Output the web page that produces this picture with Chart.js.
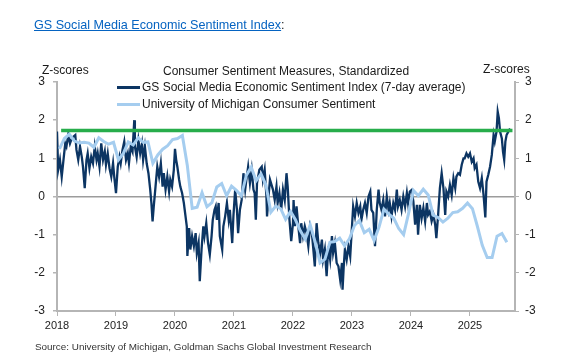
<!DOCTYPE html>
<html>
<head>
<meta charset="utf-8">
<script src="https://cdn.jsdelivr.net/npm/chart.js@4"></script>
<style>
  body { margin: 0; background: #fff; font-family: "Liberation Sans", Arial, sans-serif; }
  #wrap { position: relative; width: 581px; height: 354px; overflow: hidden; }
  #c { position: absolute; left: 0; top: 0; }
  .t { position: absolute; white-space: nowrap; color: #1a1a1a; font-size: 12px; line-height: 14px; }
  .swatch { position: absolute; left: 117px; width: 23px; }
</style>
</head>
<body>
<div id="wrap">
  <canvas id="c" width="581" height="354"></canvas>
  <div class="t" style="left:34px;top:17px;font-size:12.6px;line-height:16px;"><a href="#" style="color:#0563c1;text-decoration:underline;">GS Social Media Economic Sentiment Index</a>:</div>
  <div class="t" style="left:42px;top:63px;">Z-scores</div>
  <div class="t" style="left:483px;top:62px;">Z-scores</div>
  <div class="t" style="left:163px;top:64px;">Consumer Sentiment Measures, Standardized</div>
  <div class="swatch" style="top:86px;height:2.5px;background:#0c3563;"></div>
  <div class="t" style="left:142px;top:80px;">GS Social Media Economic Sentiment Index (7-day average)</div>
  <div class="swatch" style="top:103px;height:3px;background:#a5cdef;"></div>
  <div class="t" style="left:142px;top:97px;">University of Michigan Consumer Sentiment</div>
  <div class="t" style="left:35px;top:341px;font-size:9.9px;line-height:12px;color:#333;">Source: University of Michigan, Goldman Sachs Global Investment Research</div>
</div>
<script>
// GS index, 7-day average (decimal year, z-score)
const gsDates = [
  2018.00,2018.02,2018.05,2018.08,2018.11,2018.14,2018.16,2018.19,2018.22,2018.25,2018.28,2018.31,2018.33,2018.36,2018.39,2018.42,2018.44,2018.47,2018.50,2018.52,
  2018.55,2018.58,2018.61,2018.64,2018.67,2018.69,2018.72,2018.75,2018.78,2018.81,2018.83,2018.86,2018.89,2018.92,2018.95,2018.97,2019.00,2019.03,2019.06,2019.08,
  2019.11,2019.14,2019.17,2019.20,2019.22,2019.25,2019.28,2019.31,2019.32,2019.35,2019.38,2019.41,2019.44,2019.46,2019.49,2019.52,2019.55,2019.58,2019.60,2019.62,
  2019.64,2019.67,2019.70,2019.73,2019.76,2019.79,2019.81,2019.84,2019.87,2019.90,2019.92,2019.95,2019.98,2020.00,2020.02,2020.04,2020.07,2020.09,2020.12,2020.15,
  2020.20,2020.21,2020.24,2020.26,2020.29,2020.32,2020.35,2020.37,2020.40,2020.42,2020.45,2020.48,2020.50,2020.53,2020.56,2020.59,2020.62,2020.64,2020.67,2020.69,
  2020.71,2020.74,2020.76,2020.80,2020.82,2020.85,2020.88,2020.91,2020.93,2020.97,2020.99,2021.02,2021.05,2021.07,2021.10,2021.13,2021.16,2021.19,2021.21,2021.24,
  2021.27,2021.30,2021.33,2021.35,2021.37,2021.39,2021.43,2021.47,2021.49,2021.52,2021.55,2021.56,2021.59,2021.61,2021.66,2021.69,2021.72,2021.74,2021.77,2021.80,
  2021.83,2021.86,2021.89,2021.91,2021.94,2021.97,2022.00,2022.01,2022.03,2022.06,2022.09,2022.12,2022.14,2022.17,2022.20,2022.23,2022.26,2022.29,2022.32,2022.34,
  2022.37,2022.40,2022.43,2022.46,2022.49,2022.51,2022.54,2022.57,2022.60,2022.63,2022.66,2022.68,2022.71,2022.74,2022.77,2022.80,2022.83,2022.84,2022.86,2022.88,
  2022.91,2022.94,2022.97,2022.99,2023.02,2023.05,2023.08,2023.11,2023.14,2023.16,2023.19,2023.22,2023.25,2023.28,2023.31,2023.33,2023.36,2023.39,2023.42,2023.45,
  2023.47,2023.50,2023.53,2023.56,2023.59,2023.62,2023.64,2023.67,2023.70,2023.73,2023.76,2023.78,2023.81,2023.84,2023.87,2023.90,2023.93,2023.95,2023.98,2024.01,
  2024.04,2024.07,2024.10,2024.12,2024.15,2024.18,2024.21,2024.24,2024.27,2024.29,2024.32,2024.35,2024.38,2024.41,2024.43,2024.46,2024.49,2024.52,2024.55,2024.58,
  2024.60,2024.63,2024.66,2024.69,2024.72,2024.75,2024.77,2024.80,2024.83,2024.86,2024.89,2024.91,2024.94,2024.97,2025.00,2025.03,2025.06,2025.08,2025.11,2025.14,
  2025.17,2025.20,2025.23,2025.26,2025.28,2025.31,2025.34,2025.37,2025.40,2025.42,2025.45,2025.47,2025.49,2025.51,2025.54,2025.56,2025.58,2025.60,2025.62,2025.65,
  2025.68
];
const gsValues = [
  1.70,0.70,0.96,0.52,0.96,1.39,1.31,1.61,1.39,1.52,1.57,1.61,1.22,0.96,1.31,1.04,0.78,0.22,0.96,1.13,
  0.74,1.04,0.87,1.31,0.96,1.13,0.78,1.39,0.96,1.18,0.83,1.13,0.74,0.52,0.87,0.52,0.09,0.78,1.04,0.87,
  1.22,1.44,0.96,1.13,0.87,1.31,1.18,2.00,1.31,1.04,1.48,1.13,1.39,0.96,1.31,0.87,0.61,0.18,-0.17,-0.65,
  -0.26,0.26,0.78,0.52,0.87,0.26,0.61,0.18,0.52,0.13,0.44,0.26,0.70,1.25,0.96,0.78,0.44,0.26,0.09,-0.17,
  -0.78,-1.56,-0.83,-1.39,-1.04,-1.30,-0.96,-1.48,-1.22,-2.22,-1.39,-0.78,-1.04,-0.70,-1.22,-1.52,-1.04,-0.61,-0.35,-0.26,
  -0.61,-0.17,-1.04,-1.39,-0.78,-0.52,-0.17,-0.61,-0.35,-1.22,-0.52,0.18,-0.35,-0.96,-0.35,-0.09,0.61,0.18,0.44,0.78,
  0.35,0.70,0.18,0.09,-0.61,0.35,0.70,0.78,0.44,0.70,0.00,-0.52,0.09,0.44,0.18,-0.09,0.26,-0.17,0.09,-0.35,
  0.18,-0.09,0.61,0.26,-0.61,-1.17,-0.70,-0.09,-0.78,-0.26,-0.78,-1.22,-0.70,-1.04,-0.78,-0.96,-1.30,-0.78,-0.96,-1.30,
  -1.83,-0.70,-1.22,-1.48,-1.13,-1.65,-1.39,-2.09,-1.30,-1.65,-1.04,-1.48,-1.22,-1.74,-1.83,-2.18,-1.74,-2.44,-1.83,-1.39,
  -1.65,-1.30,-1.57,-1.04,-0.26,-0.52,-0.17,-0.43,-0.26,-0.61,-0.35,-0.17,-0.43,0.00,0.13,-0.35,-0.43,-1.30,-0.35,0.18,
  -0.17,-0.35,-0.09,-0.52,0.00,-0.35,-0.17,-0.52,-0.17,-0.35,0.18,-0.26,-0.09,-0.35,0.00,-0.26,0.09,-0.17,0.13,0.17,
  -0.13,-0.74,-0.22,-1.00,-0.22,-0.57,-0.30,-0.65,-0.17,-0.48,-0.39,-0.65,-0.48,-0.74,-1.09,-0.48,0.22,0.61,0.22,-0.48,
  0.13,0.00,0.30,0.04,0.48,0.22,0.52,0.61,0.57,0.83,1.00,1.00,1.13,1.04,1.13,0.91,1.00,0.74,0.83,0.39,
  0.22,0.48,0.04,-0.55,0.39,0.57,0.78,1.09,1.61,1.44,1.70,2.22,2.05,1.70,1.52,1.17,0.96,1.44,1.61,1.70,
  1.78
];

// University of Michigan sentiment, monthly Jan 2018 - Aug 2025 (z-score)
const michValues = [
  1.25,1.52,1.63,1.46,1.40,1.42,1.40,1.29,1.54,1.44,1.37,1.42,
  0.96,1.13,1.43,1.35,1.54,1.42,1.43,0.87,1.09,1.24,1.33,1.49,
  1.52,1.60,0.82,-0.31,-0.28,0.10,-0.27,-0.16,0.25,0.34,0.02,0.27,
  0.16,0.02,0.55,0.77,0.41,0.59,0.30,-0.41,-0.25,-0.32,-0.60,-0.39,
  -0.61,-0.90,-1.12,-0.74,-1.19,-1.74,-1.64,-1.20,-1.18,-1.09,-1.29,-1.10,
  -0.76,-0.63,-0.95,-0.86,-1.15,-0.80,-0.33,-0.46,-0.57,-0.84,-1.00,-0.45,
  0.16,0.02,0.19,0.04,-0.49,-0.55,-0.67,-0.57,-0.42,-0.40,-0.31,-0.17,
  -0.32,-0.78,-1.28,-1.60,-1.60,-1.04,-0.97,-1.20
];
const michStartYear = 2018;

// green reference level
const refDates = [2018.07, 2025.72];
const refValues = [1.73, 1.73];

const yearTicks = [2018, 2019, 2020, 2021, 2022, 2023, 2024, 2025];
const zTicks = [-3, -2, -1, 0, 1, 2, 3];

const FONT = "'Liberation Sans', Arial, sans-serif";
const axisGrey = "#b5b5b5";

const gsPoints = gsDates.map((d, i) => ({ x: d, y: gsValues[i] }));
const michPoints = michValues.map((v, i) => ({ x: michStartYear + (i + 0.5) / 12, y: v }));
const refPoints = refDates.map((d, i) => ({ x: d, y: refValues[i] }));

new Chart(document.getElementById("c").getContext("2d"), {
  type: "line",
  data: {
    datasets: [
      { label: "ref", data: refPoints, borderColor: "#27ad4b", borderWidth: 3.5, pointRadius: 0, order: 0 },
      { label: "University of Michigan Consumer Sentiment", data: michPoints, borderColor: "#a5cdef", borderWidth: 3, pointRadius: 0, tension: 0, order: 1 },
      { label: "GS Social Media Economic Sentiment Index (7-day average)", data: gsPoints, borderColor: "#0c3563", borderWidth: 2.3, pointRadius: 0, tension: 0, order: 2 }
    ]
  },
  options: {
    responsive: false,
    animation: false,
    devicePixelRatio: 1,
    layout: { padding: { top: 82, left: 0, right: 0, bottom: 0 } },
    plugins: { legend: { display: false }, tooltip: { enabled: false } },
    scales: {
      x: {
        type: "linear", min: 2018, max: 2025.763,
        afterBuildTicks: s => { s.ticks = yearTicks.map(v => ({ value: v })); },
        afterFit: s => { s.height = 43; },
        ticks: { callback: v => String(v), font: { family: FONT, size: 11 }, color: "#222", padding: 3, maxRotation: 0, autoSkip: false },
        grid: { drawOnChartArea: false, tickLength: 5, tickColor: axisGrey },
        border: { color: axisGrey, width: 2 }
      },
      y: {
        position: "left", min: -3, max: 3,
        afterBuildTicks: s => { s.ticks = zTicks.map(v => ({ value: v })); },
        afterFit: s => { s.width = 57; },
        ticks: { font: { family: FONT, size: 12 }, color: "#222", padding: 8 },
        grid: {
          color: c => (c.tick && c.tick.value === 0) ? "#9c9c9c" : "rgba(0,0,0,0)",
          lineWidth: 1.5, tickLength: 4, tickColor: axisGrey
        },
        border: { color: axisGrey, width: 2 }
      },
      y2: {
        position: "right", min: -3, max: 3,
        afterBuildTicks: s => { s.ticks = zTicks.map(v => ({ value: v })); },
        afterFit: s => { s.width = 66; },
        ticks: { font: { family: FONT, size: 12 }, color: "#222", padding: 6 },
        grid: { drawOnChartArea: false, tickLength: 4, tickColor: axisGrey },
        border: { color: axisGrey, width: 2 }
      }
    }
  }
});
</script>
</body>
</html>
